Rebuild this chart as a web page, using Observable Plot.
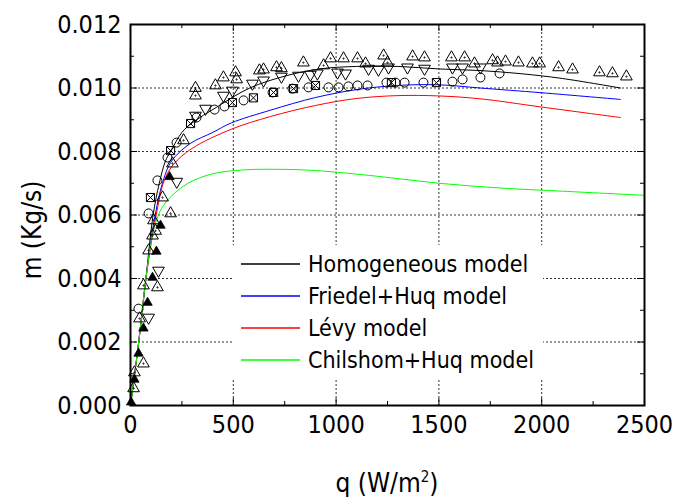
<!DOCTYPE html>
<html>
<head>
<meta charset="utf-8">
<script src="https://cdn.jsdelivr.net/npm/d3@7"></script>
<script src="https://cdn.jsdelivr.net/npm/@observablehq/plot@0.6"></script>
<style>
  html, body { margin: 0; padding: 0; background: white; }
  #wrap { position: relative; width: 675px; height: 497px; font-family: "DejaVu Sans Condensed", "DejaVu Sans", sans-serif; color: black; }
  .lab { position: absolute; white-space: nowrap; font-size: 26px; line-height: 1; }
  .row { position: absolute; height: 31px; display: flex; align-items: center; font-size: 23px; white-space: nowrap; }
  .row svg { margin-right: 8px; display: block; }
</style>
</head>
<body>
<div id="wrap"></div>
<script>
// ---- Data ----
const xTicks = [0, 500, 1000, 1500, 2000, 2500];
const xMinor = [250, 750, 1250, 1750, 2250];
const yTicks = [0, 0.002, 0.004, 0.006, 0.008, 0.010, 0.012];
const yMinor = [0.001, 0.003, 0.005, 0.007, 0.009, 0.011];
const xGrid = [500, 1000, 1500, 2000];
const yGrid = [0.002, 0.004, 0.006, 0.008, 0.010];

const seriesNames = ["Homogeneous model", "Friedel+Huq model", "Lévy model", "Chilshom+Huq model"];
const seriesColors = ["#000000", "#0000ff", "#ff0000", "#00ff00"];

const homogeneous = [[0,0],[40,0.002],[75,0.004],[110,0.006],[140,0.007],[170,0.0077],[195,0.0080],[250,0.0086],[300,0.0089],[420,0.0094],[580,0.0100],[760,0.01039],[920,0.0106],[1100,0.01068],[1300,0.01068],[1500,0.0106],[1700,0.01055],[1900,0.01045],[2100,0.0103],[2383,0.0100]];
const friedelHuq = [[0,0],[40,0.002],[75,0.004],[120,0.006],[160,0.0071],[200,0.0077],[290,0.00825],[400,0.0086],[490,0.0089],[680,0.0093],[900,0.0097],[1100,0.00995],[1300,0.01008],[1500,0.0101],[1700,0.01],[2000,0.00985],[2383,0.00964]];
const levy = [[0,0],[40,0.002],[75,0.004],[125,0.006],[165,0.0071],[210,0.0076],[300,0.0081],[490,0.0087],[680,0.0091],[900,0.00945],[1100,0.00967],[1300,0.00976],[1500,0.00975],[1700,0.00966],[2000,0.0094],[2383,0.00907]];
const chisholmHuq = [[0,0],[40,0.002],[75,0.004],[105,0.0053],[130,0.0059],[160,0.0063],[200,0.0066],[280,0.0070],[400,0.0073],[550,0.00742],[700,0.00744],[900,0.0074],[1200,0.00722],[1500,0.0070],[1800,0.00685],[2100,0.00675],[2500,0.00662]];

const openUp = [[15,0.00054],[19,0.00104],[63,0.00132],[44,0.00274],[63,0.00378],[131,0.00372],[88,0.00488],[107,0.00535],[122,0.0055],[112,0.00583],[195,0.00605],[156,0.00655],[204,0.00762],[258,0.00835],[316,0.00976],[316,0.0100],[413,0.01008],[452,0.01033],[511,0.01049],[516,0.01027],[627,0.01055],[647,0.01058],[710,0.01065],[734,0.01062],[841,0.0108],[939,0.01071],[973,0.01093],[1036,0.01093],[1104,0.01093],[1143,0.01077],[1231,0.01102],[1250,0.0108],[1372,0.01099],[1430,0.01096],[1561,0.01096],[1625,0.01096],[1673,0.01077],[1761,0.01087],[1785,0.0108],[1824,0.01083],[1887,0.0108],[1955,0.01077],[1990,0.01077],[2082,0.01065],[2150,0.01058],[2281,0.01049],[2344,0.01046],[2412,0.01036]];
const filledUp = [[3,0.0001],[19,0.00082],[39,0.00164],[63,0.00243],[83,0.00324],[107,0.00403],[126,0.00485],[146,0.00567],[190,0.0072]];
const openDown = [[88,0.00277],[136,0.00425],[225,0.00705],[316,0.00913],[365,0.00935],[452,0.00976],[496,0.00992],[593,0.01014],[647,0.01024],[734,0.01036],[817,0.01039],[875,0.01042],[909,0.01046],[1007,0.01049],[1046,0.01046],[1158,0.01061],[1206,0.01058],[1255,0.01065],[1347,0.01065],[1430,0.01061],[1566,0.01065],[1615,0.01065],[1702,0.01065]];
const circles = [[39,0.00305],[88,0.00605],[131,0.00709],[180,0.00781],[224,0.00828],[321,0.00907],[409,0.00932],[457,0.00942],[550,0.00961],[691,0.00986],[788,0.00998],[866,0.01002],[963,0.01002],[1012,0.01002],[1060,0.01005],[1104,0.01008],[1153,0.01008],[1245,0.01017],[1289,0.01017],[1333,0.01017],[1425,0.01017],[1566,0.0102],[1615,0.01027],[1702,0.01033],[1795,0.01046]];
const crossedSquares = [[97,0.00655],[195,0.00803],[292,0.00888],[496,0.00954],[598,0.00969],[696,0.00986],[793,0.00998],[900,0.01008],[1269,0.01017],[1488,0.01017]];

// ---- Layout ----
const W = 675, H = 497, mL = 130, mR = 31, mT = 24, mB = 92;
const pw = W - mL - mR, ph = H - mT - mB;

// ---- custom marker symbols ----
function tri(ctx, r, down) {
  const a = r * 1.3, h = a * Math.sqrt(3), s = down ? -1 : 1;
  ctx.moveTo(0, -s * 2 * h / 3);
  ctx.lineTo(a, s * h / 3);
  ctx.lineTo(-a, s * h / 3);
  ctx.closePath();
}
const symTriDot = {draw(ctx, size) { const r = Math.sqrt(size / Math.PI); tri(ctx, r, false); ctx.moveTo(0.6, 0); ctx.arc(0, 0, 0.6, 0, 2 * Math.PI); }};
const symTri = {draw(ctx, size) { tri(ctx, Math.sqrt(size / Math.PI), false); }};
const symTriDown = {draw(ctx, size) { tri(ctx, Math.sqrt(size / Math.PI), true); }};
const symBoxX = {draw(ctx, size) { const s = Math.sqrt(size / Math.PI) * 0.9; ctx.moveTo(-s, -s); ctx.lineTo(s, -s); ctx.lineTo(s, s); ctx.lineTo(-s, s); ctx.closePath(); ctx.moveTo(-s, -s); ctx.lineTo(s, s); ctx.moveTo(s, -s); ctx.lineTo(-s, s); }};

const X = d => d[0], Y = d => d[1];
const curves = [homogeneous, friedelHuq, levy, chisholmHuq];

const chart = Plot.plot({
  width: W, height: H,
  marginLeft: mL, marginRight: mR, marginTop: mT, marginBottom: mB,
  style: {fontFamily: '"DejaVu Sans Condensed", "DejaVu Sans", sans-serif', fontSize: "25px", color: "black", background: "white", overflow: "visible"},
  x: {domain: [0, 2500], ticks: xTicks, tickSize: 0, tickPadding: 10, tickFormat: d => String(d), label: null},
  y: {domain: [0, 0.012], ticks: yTicks, tickSize: 0, tickPadding: 9, tickFormat: d3.format(".3f"), label: null},
  marks: [
    Plot.ruleX(xGrid, {x: d => d, stroke: "#333", strokeDasharray: "2,2", strokeWidth: 1}),
    Plot.ruleY(yGrid, {y: d => d, stroke: "#333", strokeDasharray: "2,2", strokeWidth: 1}),
    ...curves.map((c, i) => Plot.line(c, {x: X, y: Y, stroke: seriesColors[i], strokeWidth: 1, curve: "catmull-rom"})),
    Plot.dot(openUp, {x: X, y: Y, r: 4.5, symbol: symTriDot, stroke: "black", fill: "none", strokeWidth: 1}),
    Plot.dot(openDown, {x: X, y: Y, r: 4.5, symbol: symTriDown, stroke: "black", fill: "none", strokeWidth: 1}),
    Plot.dot(circles, {x: X, y: Y, r: 4.5, symbol: "circle", stroke: "black", fill: "none", strokeWidth: 1}),
    Plot.dot(crossedSquares, {x: X, y: Y, r: 4.5, symbol: symBoxX, stroke: "black", fill: "none", strokeWidth: 1}),
    Plot.dot(filledUp, {x: X, y: Y, r: 3.6, symbol: symTri, stroke: "black", fill: "black", strokeWidth: 0.8}),
    // inward ticks on all four sides
    Plot.tickY(yTicks, {y: d => d, insetRight: pw - 7, stroke: "black"}),
    Plot.tickY(yMinor, {y: d => d, insetRight: pw - 4, stroke: "black"}),
    Plot.tickY(yTicks, {y: d => d, insetLeft: pw - 7, stroke: "black"}),
    Plot.tickY(yMinor, {y: d => d, insetLeft: pw - 4, stroke: "black"}),
    Plot.tickX(xTicks, {x: d => d, insetTop: ph - 7, stroke: "black"}),
    Plot.tickX(xMinor, {x: d => d, insetTop: ph - 4, stroke: "black"}),
    Plot.tickX(xTicks, {x: d => d, insetBottom: ph - 7, stroke: "black"}),
    Plot.tickX(xMinor, {x: d => d, insetBottom: ph - 4, stroke: "black"}),
    Plot.frame({stroke: "black", strokeWidth: 2})
  ]
});

const wrap = document.getElementById("wrap");
wrap.appendChild(chart);

// legend box (white, covers the grid behind it)
const box = document.createElement("div");
Object.assign(box.style, {position: "absolute", left: "232px", top: "245px", width: "311px", height: "135px", background: "white"});
wrap.appendChild(box);
const NS = "http://www.w3.org/2000/svg";
seriesNames.forEach((name, i) => {
  const row = document.createElement("div");
  row.className = "row";
  row.style.left = "241px";
  row.style.top = (263 + 32 * i - 15) + "px";
  const sv = document.createElementNS(NS, "svg");
  sv.setAttribute("width", "59"); sv.setAttribute("height", "4");
  const ln = document.createElementNS(NS, "line");
  ln.setAttribute("x1", "0"); ln.setAttribute("x2", "59");
  ln.setAttribute("y1", "2"); ln.setAttribute("y2", "2");
  ln.setAttribute("stroke", seriesColors[i]);
  ln.setAttribute("stroke-width", "1.3");
  sv.appendChild(ln);
  const tx = document.createElement("span");
  tx.textContent = name;
  row.appendChild(sv); row.appendChild(tx);
  wrap.appendChild(row);
});

// axis titles
const xl = document.createElement("div");
xl.className = "lab";
xl.innerHTML = "q (W/m<sup style='font-size:15px;vertical-align:10px'>2</sup>)";
Object.assign(xl.style, {left: "387px", top: "483px", transform: "translate(-50%,-50%)"});
wrap.appendChild(xl);
const yl = document.createElement("div");
yl.className = "lab";
yl.textContent = "m (Kg/s)";
Object.assign(yl.style, {left: "32px", top: "230px", transform: "translate(-50%,-50%) rotate(-90deg)"});
wrap.appendChild(yl);
</script>
</body>
</html>
